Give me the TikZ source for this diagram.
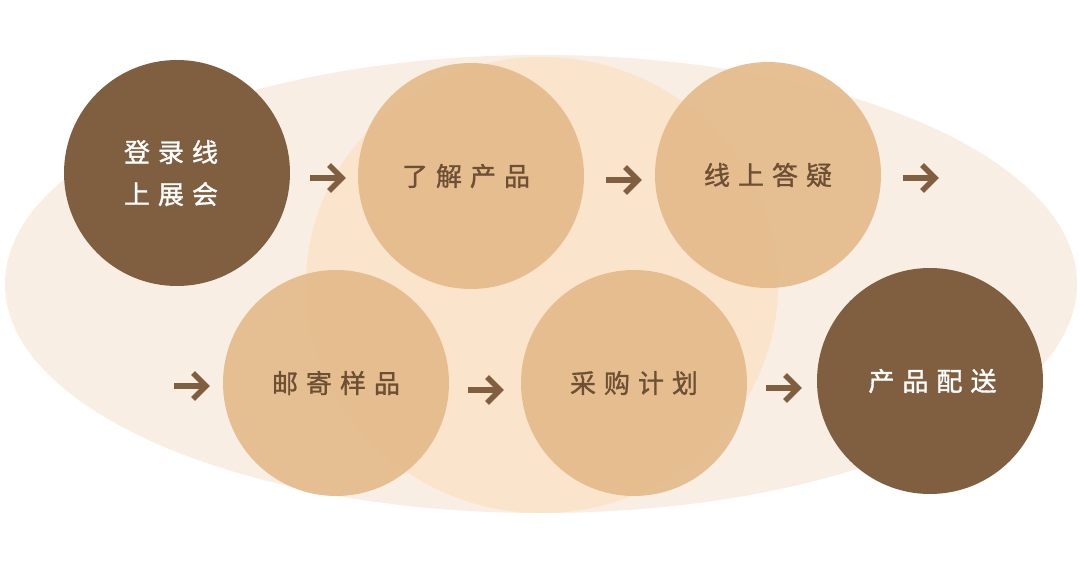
\documentclass[tikz,border=0pt]{standalone}
\usepackage{fontspec}
\newfontfamily\cjk[FakeBold=1.2]{Noto Sans CJK SC}
\newcommand\kg{\hspace{8pt}}
\definecolor{ellcol}{HTML}{F8EEE4}
\definecolor{bigcol}{HTML}{FBE3CA}
\definecolor{peach}{RGB}{228,185,136}
\definecolor{darkb}{HTML}{7F5F40}
\definecolor{txtb}{HTML}{6C4F34}
\tikzset{
  circ/.style={circle, minimum size=226pt, inner sep=0pt, font=\cjk\fontsize{26}{42}\selectfont},
  lightcirc/.style={circ, fill=peach, fill opacity=0.9, text opacity=1, text=txtb},
  darkcirc/.style={circ, fill=darkb, text=white},
  arr/.style={draw=darkb, line width=5.5pt, line join=miter, line cap=butt},
}
\begin{document}
\begin{tikzpicture}[x=1pt,y=-1pt]
\useasboundingbox (0,0) rectangle (1080,569);
\fill[white] (0,0) rectangle (1080,569);
\fill[ellcol] (541,284) ellipse [x radius=536, y radius=229];
\fill[bigcol, fill opacity=0.9] (542,285) ellipse [x radius=236, y radius=228];

\node[darkcirc, align=center] (s1) at (177,173) {\kern-12pt 登\kg 录\kg 线\\[0pt]\kern-12pt 上\kg 展\kg 会};
\node[lightcirc] (s2) at (471,176) {\kern-10pt 了\kg 解\kg 产\kg 品};
\node[lightcirc] (s3) at (768,175) {线\kg 上\kg 答\kg 疑};
\node[lightcirc] (s4) at (336,383) {邮\kg 寄\kg 样\kg 品};
\node[lightcirc] (s5) at (634,383) {采\kg 购\kg 计\kg 划};
\node[darkcirc] (s6) at (930,381) {\kern5pt 产\kg 品\kg 配\kg 送};

\coordinate (a1) at (310,178);
\coordinate (a2) at (606,180);
\coordinate (a3) at (903,178);
\coordinate (a4) at (174,386);
\coordinate (a5) at (468,390);
\coordinate (a6) at (766,388);
\foreach \a in {a1,a2,a3,a4,a5,a6}{
  \draw[arr] (\a) -- ++(33,0);
  \draw[arr] (\a) ++(19,-13) -- ++(13,13) -- ++(-13,13);
}
\end{tikzpicture}
\end{document}
